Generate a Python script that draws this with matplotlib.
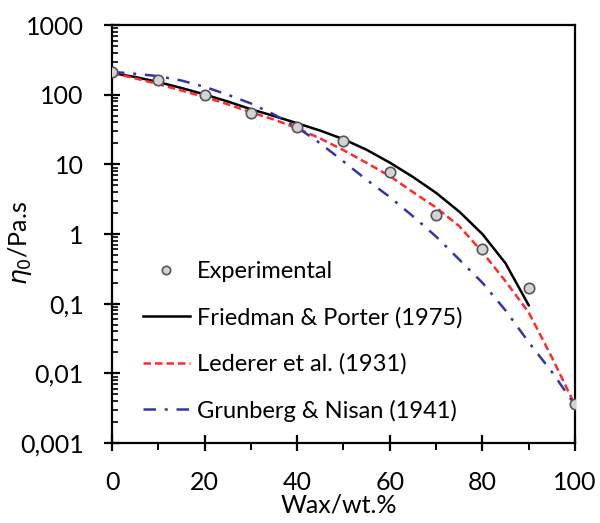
import numpy as np
import matplotlib
matplotlib.use("Agg")
import matplotlib.pyplot as plt
from matplotlib.ticker import FixedLocator, FixedFormatter, LogLocator, NullFormatter, MultipleLocator

plt.rcParams['font.family'] = ['Lato', 'DejaVu Sans']

# measured zero-shear viscosity vs wax content
wax_exp = [0, 10, 20, 30, 40, 50, 60, 70, 80, 90, 100]
eta_exp = [215, 165, 100, 55, 34, 22, 7.7, 1.85, 0.62, 0.17, 0.0036]

# model curves
wax_fp = [0, 5, 10, 15, 20, 25, 30, 35, 40, 45, 50, 55, 60, 65, 70, 75, 80, 85, 90]
eta_fp = [205, 180, 152, 125, 101, 80, 62, 49.5, 39, 30.5, 23, 16.2, 10.6, 6.6, 3.9, 2.1, 1.0, 0.38, 0.095]

wax_ld = [0, 5, 10, 15, 20, 25, 30, 35, 40, 45, 50, 55, 60, 65, 70, 75, 80, 85, 90, 95, 100]
eta_ld = [205, 172, 142, 115, 93, 73, 56, 44, 33, 23.5, 16, 10.5, 6.8, 4.0, 2.4, 1.3, 0.55, 0.21, 0.075, 0.017, 0.0035]

wax_gn = [0, 5, 10, 15, 20, 25, 30, 35, 40, 45, 50, 55, 60, 65, 70, 75, 80, 85, 90, 95, 100]
eta_gn = [213, 200, 185, 160, 130, 100, 75, 52, 34, 20, 11, 6.0, 3.4, 1.8, 0.92, 0.43, 0.2, 0.08, 0.028, 0.0105, 0.0035]

y_ticks = [0.001, 0.01, 0.1, 1, 10, 100, 1000]
y_labels = ['0,001', '0,01', '0,1', '1', '10', '100', '1000']

fig = plt.figure(figsize=(6, 5.23), dpi=100)
ax = fig.add_axes([0.1867, 0.153, 0.7716, 0.799])

ax.plot(wax_exp, eta_exp, 'o', ms=7.5, mfc='#d4d4d4', mec='#555555', mew=1.2,
        zorder=5, label='Experimental')
ax.plot(wax_fp, eta_fp, '-', color='black', lw=1.8, label='Friedman & Porter (1975)')
ax.plot(wax_ld, eta_ld, '--', color='#ff2a2a', lw=1.8, dashes=(3, 1.6),
        label='Lederer et al. (1931)')
ax.plot(wax_gn, eta_gn, '-.', color='#3535a8', lw=1.8, dashes=(5, 3.5, 1.2, 3.5),
        label='Grunberg & Nisan (1941)')

ax.set_yscale('log')
ax.set_xlim(0, 100)
ax.set_ylim(0.001, 1000)

ax.yaxis.set_major_locator(FixedLocator(y_ticks))
ax.yaxis.set_major_formatter(FixedFormatter(y_labels))
ax.yaxis.set_minor_locator(LogLocator(base=10, subs=np.arange(2, 10)))
ax.yaxis.set_minor_formatter(NullFormatter())
ax.xaxis.set_major_locator(MultipleLocator(20))
ax.xaxis.set_minor_locator(MultipleLocator(10))

ax.tick_params(axis='y', which='major', direction='inout', length=11, width=1.6,
               labelsize=18, pad=15)
ax.tick_params(axis='y', which='minor', direction='in', length=4, width=1.2)
ax.tick_params(axis='x', which='major', direction='inout', length=12, width=1.6,
               labelsize=18, pad=14)
ax.tick_params(axis='x', which='minor', direction='out', length=5, width=1.4)

for sp in ax.spines.values():
    sp.set_linewidth(1.6)

ax.set_xlabel('Wax/wt.%', fontsize=18)
ax.set_ylabel(r'$\eta_0$/Pa.s', fontsize=18)
ax.xaxis.set_label_coords(0.49, -0.122)
ax.yaxis.set_label_coords(-0.168, 0.478)

leg = ax.legend(loc='lower left', bbox_to_anchor=(0.02, 0.0), frameon=False,
                fontsize=17, handlelength=2.0, handletextpad=0.3,
                labelspacing=1.05, markerscale=0.8)

fig.savefig('out.png', dpi=100)
